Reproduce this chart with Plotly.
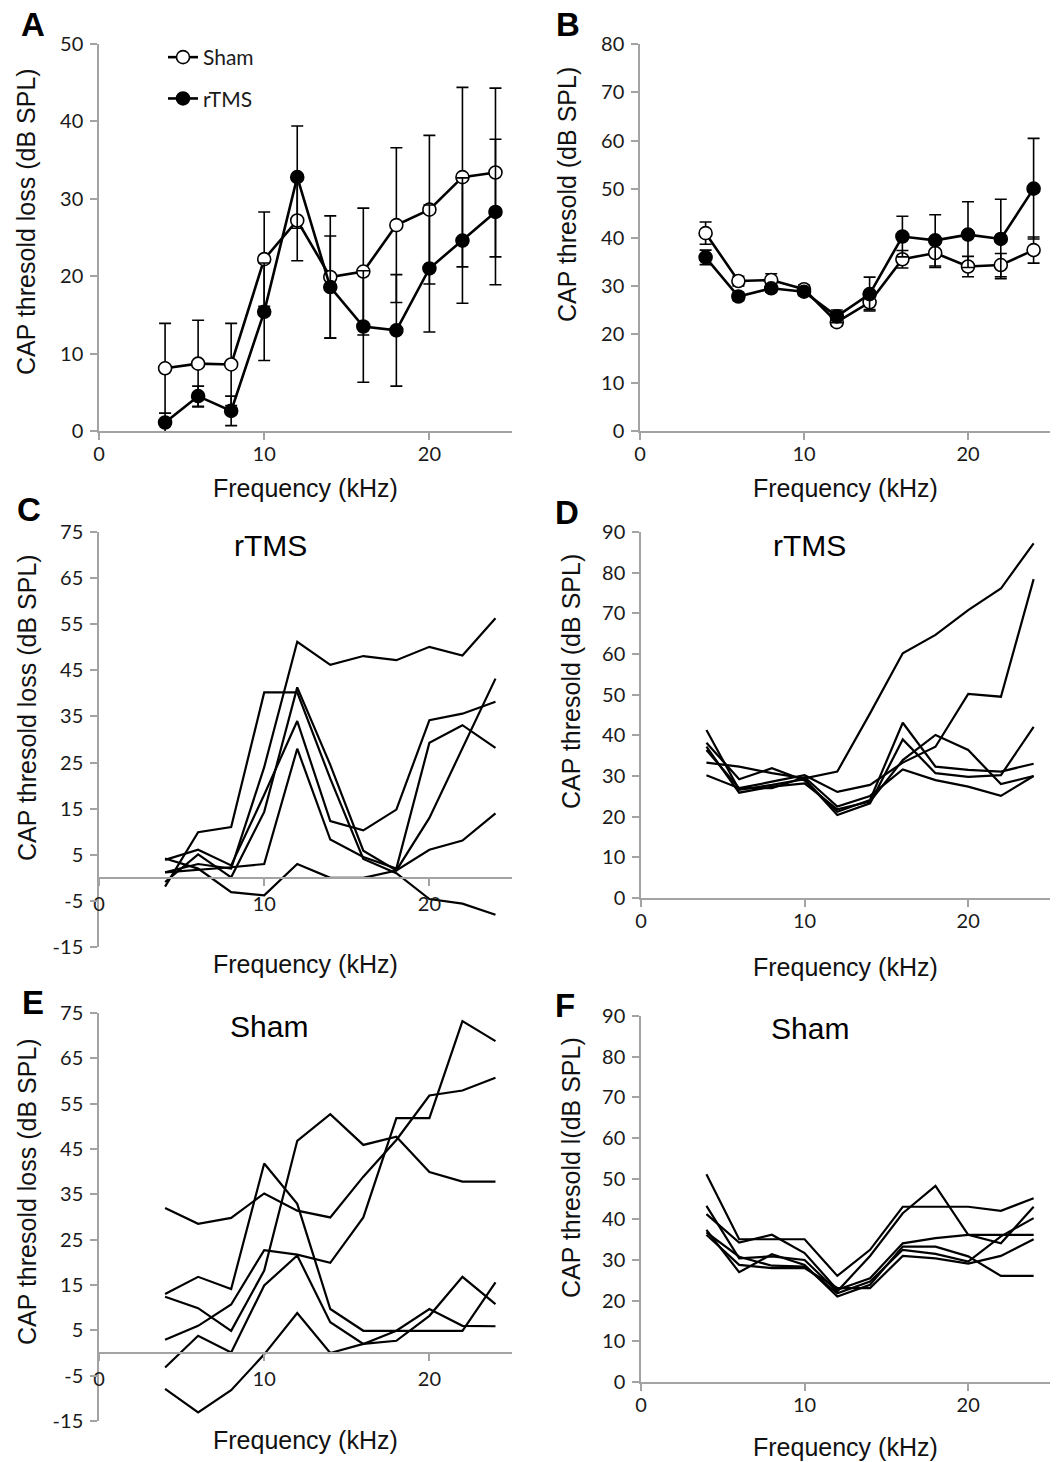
import plotly.graph_objects as go

# ---------------- data ----------------
freq = [4, 6, 8, 10, 12, 14, 16, 18, 20, 22, 24]

# Panel A: CAP threshold loss (mean +/- error)
sham_loss = [8.1, 8.7, 8.6, 22.2, 27.2, 19.9, 20.6, 26.6, 28.6, 32.8, 33.4]
sham_loss_err = [5.8, 5.6, 5.3, 6.1, 5.2, 7.9, 8.2, 10.0, 9.6, 11.6, 10.9]
rtms_loss = [1.1, 4.5, 2.6, 15.4, 32.8, 18.6, 13.5, 13.0, 21.0, 24.6, 28.3]
rtms_loss_err = [1.2, 1.3, 1.9, 6.3, 6.6, 6.6, 7.2, 7.2, 8.2, 8.1, 9.4]

# Panel B: CAP threshold (mean +/- error)
sham_thr = [40.9, 31.0, 31.2, 29.3, 22.5, 26.6, 35.5, 36.8, 34.0, 34.3, 37.4]
sham_thr_err = [2.3, 1.0, 1.3, 0.8, 0.8, 1.5, 1.8, 3.0, 2.1, 2.4, 2.7]
rtms_thr = [35.9, 27.8, 29.5, 28.8, 23.7, 28.3, 40.2, 39.4, 40.6, 39.7, 50.1]
rtms_thr_err = [1.5, 0.8, 0.8, 0.8, 1.3, 3.5, 4.2, 5.3, 6.8, 8.2, 10.4]

# Panel C: individual rTMS threshold loss
rtms_loss_1 = [1.2, 3.0, 2.0, 24.0, 51.2, 46.2, 48.1, 47.2, 50.1, 48.2, 56.3]
rtms_loss_2 = [4.2, 2.0, -3.1, -3.8, 3.0, 0.0, 0.0, 1.6, 13.0, 28.2, 43.2]
rtms_loss_3 = [1.2, 1.7, 2.3, 3.0, 28.0, 8.3, 4.5, 2.0, 29.3, 33.1, 28.2]
rtms_loss_4 = [3.9, 6.1, 2.7, 18.0, 34.0, 12.3, 10.3, 14.8, 34.2, 35.6, 38.2]
rtms_loss_5 = [-0.9, 5.1, 0.1, 14.3, 41.3, 24.5, 5.9, 1.6, 6.1, 8.1, 14.0]
rtms_loss_6 = [-1.9, 9.9, 11.0, 40.2, 40.2, 21.5, 4.1, 1.0, -4.6, -5.6, -8.0]

# Panel D: individual rTMS thresholds
rtms_thr_1 = [33.3, 32.3, 30.7, 29.4, 31.1, 45.4, 60.2, 64.7, 70.8, 76.1, 87.2]
rtms_thr_2 = [30.2, 27.0, 28.6, 30.2, 26.1, 27.8, 33.3, 37.2, 50.2, 49.5, 78.4]
rtms_thr_3 = [38.2, 29.2, 31.9, 28.9, 21.2, 24.1, 43.1, 32.3, 31.5, 31.1, 33.0]
rtms_thr_4 = [41.3, 26.6, 27.8, 29.2, 20.4, 23.3, 39.0, 30.7, 29.8, 30.2, 42.1]
rtms_thr_5 = [37.2, 25.9, 27.4, 28.2, 21.8, 23.7, 33.9, 40.1, 36.4, 28.0, 30.0]
rtms_thr_6 = [36.4, 27.0, 27.0, 29.7, 22.5, 25.1, 31.6, 29.0, 27.4, 25.1, 30.0]

# Panel E: individual Sham threshold loss
sham_loss_1 = [32.0, 28.5, 29.8, 35.2, 31.4, 29.9, 38.9, 47.0, 56.8, 57.9, 60.7]
sham_loss_2 = [13.0, 16.8, 14.1, 41.8, 32.9, 9.7, 4.9, 4.9, 4.9, 4.9, 15.6]
sham_loss_3 = [12.4, 9.9, 4.9, 18.2, 46.8, 52.7, 45.9, 47.7, 39.9, 37.8, 37.8]
sham_loss_4 = [2.9, 6.0, 10.7, 22.7, 21.7, 19.9, 29.9, 51.8, 51.8, 73.2, 68.8]
sham_loss_5 = [-7.9, -13.1, -8.2, -0.3, 8.8, 0.0, 2.0, 2.7, 8.2, 16.8, 10.8]
sham_loss_6 = [-3.2, 3.8, 0.1, 14.9, 21.5, 6.8, 2.0, 4.9, 9.7, 6.0, 5.9]

# Panel F: individual Sham thresholds
sham_thr_1 = [51.1, 35.1, 35.1, 35.1, 26.1, 32.5, 43.1, 43.1, 43.1, 42.1, 45.2]
sham_thr_2 = [43.3, 30.4, 30.9, 30.0, 22.3, 31.0, 41.5, 48.2, 36.2, 34.1, 43.1]
sham_thr_3 = [41.3, 34.3, 36.2, 31.7, 22.7, 25.5, 34.1, 35.4, 36.2, 36.2, 36.2]
sham_thr_4 = [37.4, 27.0, 31.4, 28.8, 21.0, 23.9, 33.3, 33.3, 30.9, 26.1, 26.1]
sham_thr_5 = [36.8, 30.8, 28.6, 28.4, 21.8, 24.7, 32.5, 31.5, 29.6, 35.8, 40.3]
sham_thr_6 = [36.2, 28.8, 28.0, 28.0, 23.1, 23.1, 31.0, 30.4, 29.1, 31.0, 35.1]

# tick values / labels
x_ticks = [0, 10, 20]
y_ticks_loss_mean = [0, 10, 20, 30, 40, 50]
y_ticks_thr_mean = [0, 10, 20, 30, 40, 50, 60, 70, 80]
y_ticks_loss_ind = [-15, -5, 5, 15, 25, 35, 45, 55, 65, 75]
y_ticks_thr_ind = [0, 10, 20, 30, 40, 50, 60, 70, 80, 90]
x_title = "Frequency (kHz)"

# ---------------- layout helpers ----------------
W, H = 1059, 1462


def fx(p):
    return p / W


def fy(p):
    return 1 - p / H


AXIS_COLOR = "#a3a3a3"
TICK_FONT = dict(family="Lato, 'Open Sans', sans-serif", size=20, color="#1a1a1a")
TITLE_FONT = dict(family="'Liberation Sans', Arial, sans-serif", size=25, color="#111111")

# pixel boxes of the plotting areas: (left, right, top, bottom), y range, y ticks
panels = [
    dict(n=1, box=(99, 512, 44, 431), yr=(0, 50), yt=y_ticks_loss_mean),
    dict(n=2, box=(640, 1050, 44, 431), yr=(0, 80), yt=y_ticks_thr_mean),
    dict(n=3, box=(99, 512, 532, 947), yr=(-15, 75), yt=y_ticks_loss_ind),
    dict(n=4, box=(641, 1050, 532, 898), yr=(0, 90), yt=y_ticks_thr_ind),
    dict(n=5, box=(99, 512, 1013, 1421), yr=(-15, 75), yt=y_ticks_loss_ind),
    dict(n=6, box=(641, 1050, 1016, 1382), yr=(0, 90), yt=y_ticks_thr_ind),
]

layout = dict(
    width=W,
    height=H,
    margin=dict(l=0, r=0, t=0, b=0, autoexpand=False),
    paper_bgcolor="white",
    plot_bgcolor="white",
    showlegend=True,
    legend=dict(
        x=fx(163), y=fy(37), xanchor="left", yanchor="top",
        font=dict(family="Lato, 'Open Sans', sans-serif", size=21, color="#1a1a1a"),
        bgcolor="rgba(0,0,0,0)", tracegroupgap=11, itemwidth=30,
    ),
)

for p in panels:
    l, r, t, b = p["box"]
    xd = [fx(l), fx(r)]
    yd = [fy(b), fy(t)]
    suffix = "" if p["n"] == 1 else str(p["n"])
    y0, y1 = p["yr"]
    xa = dict(
        domain=xd, range=[0, 25], tickmode="array", tickvals=x_ticks,
        ticktext=[str(v) for v in x_ticks],
        showline=True, linecolor=AXIS_COLOR, linewidth=1.5,
        ticks="outside", tickcolor=AXIS_COLOR, ticklen=7, tickwidth=1.5,
        showgrid=False, zeroline=False, tickfont=TICK_FONT,
        ticklabelstandoff=-3, fixedrange=True, automargin=False,
    )
    if y0 < 0:
        xa["anchor"] = "free"
        xa["position"] = yd[0] + (0 - y0) / (y1 - y0) * (yd[1] - yd[0])
        xa["ticklabelstandoff"] = 1
    else:
        xa["anchor"] = "y" + suffix
    ya = dict(
        domain=yd, range=[y0, y1], tickmode="array", tickvals=p["yt"],
        ticktext=[str(v) for v in p["yt"]],
        showline=True, linecolor=AXIS_COLOR, linewidth=1.5,
        ticks="outside", tickcolor=AXIS_COLOR, ticklen=7, tickwidth=1.5,
        showgrid=False, zeroline=False, tickfont=TICK_FONT,
        ticklabelstandoff=3, anchor="x" + suffix, fixedrange=True,
        automargin=False,
    )
    layout["xaxis" + suffix] = xa
    layout["yaxis" + suffix] = ya

fig = go.Figure(layout=layout)


def mean_trace(y, err, name, filled, n):
    suffix = "" if n == 1 else str(n)
    return go.Scatter(
        x=freq, y=y, name=name, mode="lines+markers",
        xaxis="x" + suffix, yaxis="y" + suffix,
        line=dict(color="black", width=2.6),
        marker=dict(symbol="circle", size=13,
                    color="black" if filled else "white",
                    line=dict(color="black", width=1.6)),
        error_y=dict(type="data", array=err, visible=True,
                     color="black", thickness=1.6, width=6),
        showlegend=(n == 1), legendgroup=name, cliponaxis=False,
    )


# Panel A
fig.add_trace(mean_trace(sham_loss, sham_loss_err, "Sham", False, 1))
fig.add_trace(mean_trace(rtms_loss, rtms_loss_err, "rTMS", True, 1))
# Panel B
fig.add_trace(mean_trace(sham_thr, sham_thr_err, "Sham", False, 2))
fig.add_trace(mean_trace(rtms_thr, rtms_thr_err, "rTMS", True, 2))

individual = {
    3: [rtms_loss_1, rtms_loss_2, rtms_loss_3, rtms_loss_4, rtms_loss_5, rtms_loss_6],
    4: [rtms_thr_1, rtms_thr_2, rtms_thr_3, rtms_thr_4, rtms_thr_5, rtms_thr_6],
    5: [sham_loss_1, sham_loss_2, sham_loss_3, sham_loss_4, sham_loss_5, sham_loss_6],
    6: [sham_thr_1, sham_thr_2, sham_thr_3, sham_thr_4, sham_thr_5, sham_thr_6],
}
for n, series in individual.items():
    for s in series:
        fig.add_trace(go.Scatter(
            x=freq, y=s, mode="lines", xaxis="x" + str(n), yaxis="y" + str(n),
            line=dict(color="black", width=2.2), showlegend=False,
            cliponaxis=False,
        ))

annotations = []
# panel letters
for letter, (px, py) in {"A": (33, 24), "B": (568, 24), "C": (29, 510),
                         "D": (567, 512), "E": (33, 1002), "F": (565, 1005)}.items():
    annotations.append(dict(text=letter, x=fx(px), y=fy(py), xref="paper", yref="paper",
                            showarrow=False, xanchor="center", yanchor="middle",
                            font=dict(family="'Liberation Sans', Arial, sans-serif",
                                      size=33, color="black", weight="bold")))
# sub titles
for txt, (px, py) in [("rTMS", (270, 545)), ("rTMS", (809, 545)),
                      ("Sham", (269, 1026)), ("Sham", (810, 1028))]:
    annotations.append(dict(text=txt, x=fx(px), y=fy(py), xref="paper", yref="paper",
                            showarrow=False, xanchor="center", yanchor="middle",
                            font=dict(family="'Liberation Sans', Arial, sans-serif",
                                      size=30, color="black")))
# x titles
for (px, py) in [(305, 488), (845, 488), (305, 964), (845, 967), (305, 1440), (845, 1447)]:
    annotations.append(dict(text=x_title, x=fx(px), y=fy(py), xref="paper", yref="paper",
                            showarrow=False, xanchor="center", yanchor="middle",
                            font=TITLE_FONT))
# y titles
for txt, (px, py) in [("CAP thresold loss (dB SPL)", (26, 222)),
                      ("CAP thresold (dB SPL)", (567, 195)),
                      ("CAP thresold loss (dB SPL)", (27, 708)),
                      ("CAP thresold (dB SPL)", (571, 682)),
                      ("CAP thresold loss (dB SPL)", (27, 1192)),
                      ("CAP thresold l(dB SPL)", (571, 1168))]:
    annotations.append(dict(text=txt, x=fx(px), y=fy(py), xref="paper", yref="paper",
                            showarrow=False, xanchor="center", yanchor="middle",
                            textangle=-90, font=TITLE_FONT))

fig.update_layout(annotations=annotations)

fig.write_html("out.html", config={"displayModeBar": False},
               post_script="document.body.style.margin='0';")
